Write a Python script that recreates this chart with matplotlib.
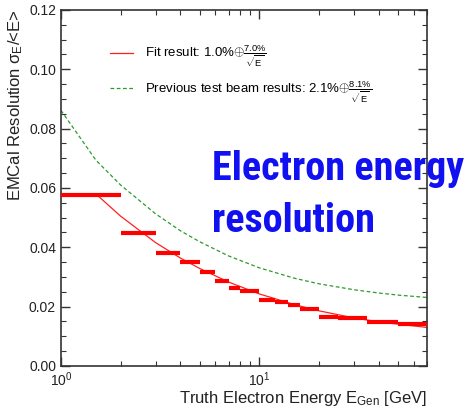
import numpy as np
import matplotlib.pyplot as plt

plt.rcParams['font.family'] = ['Liberation Sans', 'DejaVu Sans']
plt.rcParams['mathtext.fontset'] = 'custom'
plt.rcParams['mathtext.rm'] = 'Liberation Sans'
plt.rcParams['mathtext.it'] = 'Liberation Sans'

# binned resolution points (bin edges in GeV)
bin_edges = [1, 2, 3, 4, 5, 6, 7, 8, 10, 12, 14, 16, 20, 25, 35, 50, 70]
resolution = [0.0577, 0.0447, 0.0381, 0.0351, 0.0317, 0.0287, 0.0263, 0.0254,
              0.0222, 0.0215, 0.0206, 0.0192, 0.0166, 0.0161, 0.0147, 0.0142]

# fit curve
fit_E = [1.5, 2, 3, 4, 5, 7, 10, 15, 20, 30, 40, 50, 70]
fit_res = [0.0580, 0.0505, 0.0416, 0.0364, 0.0329, 0.0283, 0.0243, 0.0207,
           0.0186, 0.0162, 0.0149, 0.0141, 0.0130]

# previous test beam curve
prev_E = [1, 1.5, 2, 3, 4, 5, 7, 10, 15, 20, 30, 40, 50, 70]
prev_res = [0.0862, 0.0694, 0.0610, 0.0513, 0.0456, 0.0419, 0.0371, 0.0331,
            0.0296, 0.0277, 0.0257, 0.0246, 0.0239, 0.0231]

fig = plt.figure(figsize=(4.65, 4.08), dpi=100)
ax = fig.add_axes([0.131, 0.103, 0.787, 0.8725])

ax.hlines(resolution, bin_edges[:-1], bin_edges[1:], color='#ff0000', lw=3, zorder=3)
ax.plot(fit_E, fit_res, color='#ff2020', lw=0.9,
        label=r'Fit result: 1.0%$\oplus\frac{7.0\%}{\sqrt{E}}$')
ax.plot(prev_E, prev_res, color='#2e9a2e', lw=0.9, ls=(0, (3, 2)),
        label=r'Previous test beam results: 2.1%$\oplus\frac{8.1\%}{\sqrt{E}}$')

ax.set_xscale('log')
ax.set_xlim(1, 70)
ax.set_ylim(0, 0.12)
ax.set_yticks(np.arange(0, 0.121, 0.02))
ax.set_yticks(np.arange(0, 0.121, 0.005), minor=True)
ax.yaxis.set_major_formatter(plt.FormatStrFormatter('%.2f'))

ax.tick_params(which='both', direction='in', top=True, right=True,
               labelsize=10, colors='#333333', labelcolor='#222222')
ax.tick_params(which='major', length=6.5, width=1)
ax.tick_params(which='minor', length=3.5, width=0.8)
ax.tick_params(axis='x', which='minor', labelbottom=False)
for s in ax.spines.values():
    s.set_color('#333333')
    s.set_linewidth(1.2)

ax.set_xlabel(r'Truth Electron Energy E$_{\mathregular{Gen}}$ [GeV]', loc='right',
              fontsize=12, color='#222222', labelpad=0)
ax.set_ylabel(r'EMCal Resolution $\sigma_{\mathregular{E}}$/<E>', loc='top',
              fontsize=12, color='#222222', labelpad=3)

ax.legend(loc='upper left', bbox_to_anchor=(0.102, 0.94), frameon=False,
          fontsize=9.5, handlelength=1.75, labelspacing=0.8, handletextpad=0.9)

hand = dict(color='#1010f0', fontsize=29, fontweight='bold',
            family=['Roboto Condensed', 'DejaVu Sans'], ha='left', va='baseline')
fig.text(0.456, 0.559, 'Electron energy', **hand)
fig.text(0.456, 0.431, 'resolution', **hand)

fig.savefig('out.png', dpi=100)
